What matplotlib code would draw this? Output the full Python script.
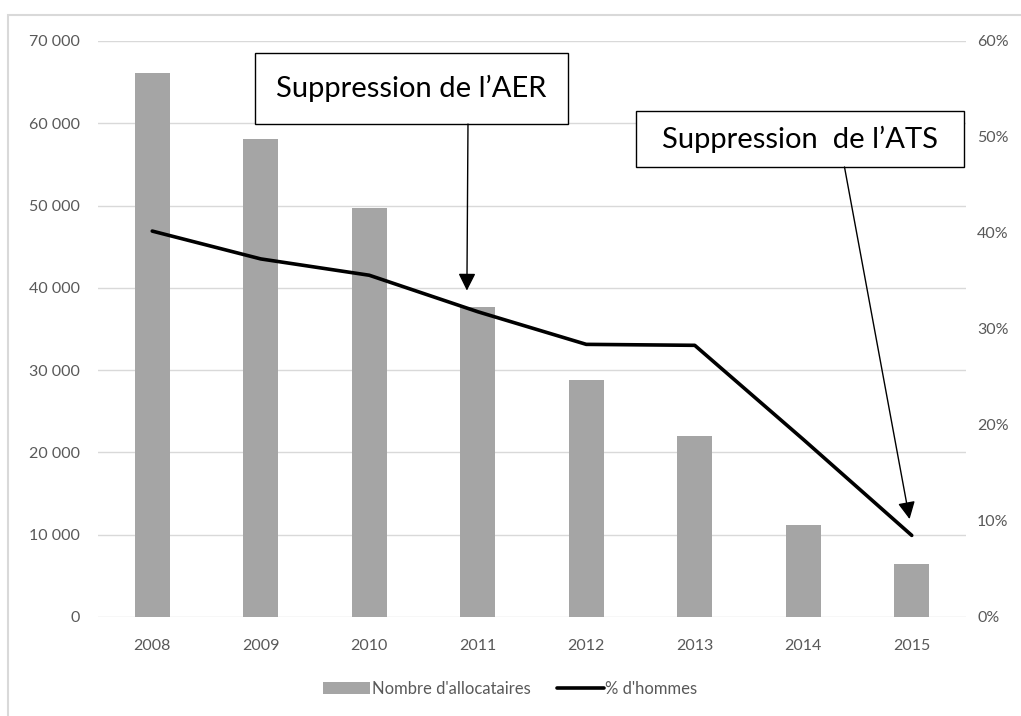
import matplotlib.pyplot as plt
from matplotlib.patches import Rectangle
from matplotlib.ticker import FuncFormatter

plt.rcParams['font.family'] = ['Lato', 'DejaVu Sans']

years = ['2008', '2009', '2010', '2011', '2012', '2013', '2014', '2015']
allocataires = [66100, 58100, 49700, 37700, 28800, 22000, 11200, 6450]
pct_hommes = [40.2, 37.3, 35.6, 31.8, 28.4, 28.3, 18.5, 8.5]

grey_txt = '#595959'

fig = plt.figure(figsize=(10.21, 7.16), dpi=100)
# outer light border of the chart area
fig.patches.append(Rectangle((8 / 1021, -0.1), 1.2, 1.1 - 15 / 716, transform=fig.transFigure,
                             fill=False, edgecolor='#D9D9D9', linewidth=1.5))

ax = fig.add_axes([98 / 1021, 1 - 617 / 716, 868 / 1021, 576 / 716])
x = range(len(years))
ax.bar(x, allocataires, width=0.32, color='#A5A5A5', label="Nombre d'allocataires", zorder=2)
ax.set_ylim(0, 70000)
ax.set_xlim(-0.5, len(years) - 0.5)
ax.set_yticks(range(0, 70001, 10000))
ax.yaxis.set_major_formatter(FuncFormatter(lambda v, p: f'{int(v):,}'.replace(',', ' ')))
ax.set_xticks(list(x))
ax.set_xticklabels(years)
ax.grid(axis='y', color='#D9D9D9', linewidth=1, zorder=0)
ax.set_axisbelow(True)
for s in ax.spines.values():
    s.set_visible(False)
ax.tick_params(axis='both', length=0, colors=grey_txt, labelsize=11.5)
ax.tick_params(axis='y', pad=13)
ax.tick_params(axis='x', pad=16)

ax2 = ax.twinx()
ax2.plot(list(x), pct_hommes, color='black', linewidth=2.6, label="% d'hommes", zorder=3,
         solid_capstyle='round')
ax2.set_ylim(0, 60)
ax2.set_yticks(range(0, 61, 10))
ax2.yaxis.set_major_formatter(FuncFormatter(lambda v, p: f'{int(v)}%'))
for s in ax2.spines.values():
    s.set_visible(False)
ax2.tick_params(axis='y', length=0, colors=grey_txt, labelsize=11.5, pad=8)

# annotation boxes + arrows
arrow = dict(arrowstyle='-|>,head_width=0.35,head_length=0.7', color='black', lw=1,
             shrinkA=0, shrinkB=0, mutation_scale=15)
ax2.add_patch(Rectangle((0.948, 51.35), 2.883, 7.4, fc='white', ec='black', lw=1, zorder=5))
ax2.text(2.39, 55.05, "Suppression de l\u2019AER", fontsize=21, ha='center', va='center', zorder=6)
ax2.annotate('', xy=(2.90, 34.0), xytext=(2.91, 51.35), arrowprops=arrow, zorder=6)

ax2.add_patch(Rectangle((4.457, 46.875), 3.02, 5.835, fc='white', ec='black', lw=1, zorder=5))
ax2.text(5.97, 49.8, "Suppression  de l\u2019ATS", fontsize=21, ha='center', va='center', zorder=6)
ax2.annotate('', xy=(6.98, 10.2), xytext=(6.38, 46.875), arrowprops=arrow, zorder=6)

h1, l1 = ax.get_legend_handles_labels()
h2, l2 = ax2.get_legend_handles_labels()
leg = fig.legend(h1 + h2, l1 + l2, loc='center', bbox_to_anchor=(0.5, 1 - 689 / 716), ncol=2,
                 frameon=False, fontsize=12, handlelength=2.8, handletextpad=0.1, columnspacing=1.6)
for t in leg.get_texts():
    t.set_color(grey_txt)

fig.savefig('out.png', dpi=100)
